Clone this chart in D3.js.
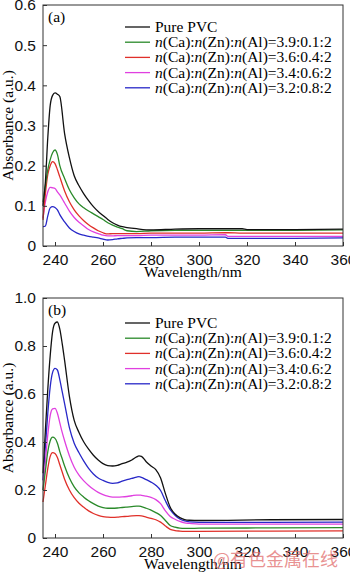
<!DOCTYPE html>
<html>
<head>
<meta charset="utf-8">
<script src="https://cdn.jsdelivr.net/npm/d3@7"></script>
<style>
  body { margin: 0; background: #fff; }
  svg { display: block; font-family: "Liberation Serif", "Times New Roman", serif; }
  .axis text { font-size: 15.5px; fill: #111; }
  .axis line { stroke: #333; }
  .frame { fill: none; stroke: #333; stroke-width: 1; }
  .series { fill: none; stroke-width: 1.3; stroke-linejoin: round; }
</style>
</head>
<body>
<div id="chart"></div>
<script>
// series names / colours shared by both panels
const seriesNames = ["Pure PVC", "3.9:0.1:2", "3.6:0.4:2", "3.4:0.6:2", "3.2:0.8:2"];
const seriesColors = ["#111111", "#2a8a2a", "#e0302a", "#e040e0", "#2828c8"];

// panel (a)
const wavelengthsA = [235,236,237,238,239,240,241,242,244,246,248,250,252,254,256,258,260,262,264,266,268,270,274,280,290,300,311,312,318,320,340,360];
const pvcA  = [0.10,0.16,0.27,0.35,0.375,0.381,0.378,0.372,0.28,0.22,0.175,0.15,0.13,0.113,0.098,0.086,0.076,0.066,0.058,0.052,0.048,0.046,0.043,0.040,0.042,0.043,0.043,0.043,0.043,0.041,0.041,0.042];
const zn01A = [0.11,0.15,0.19,0.215,0.232,0.239,0.228,0.20,0.168,0.14,0.12,0.105,0.095,0.087,0.08,0.073,0.066,0.058,0.052,0.047,0.043,0.038,0.036,0.038,0.039,0.039,0.039,0.039,0.039,0.039,0.039,0.040];
const zn04A = [0.065,0.13,0.178,0.20,0.21,0.205,0.19,0.172,0.137,0.11,0.09,0.075,0.063,0.053,0.045,0.038,0.033,0.030,0.031,0.031,0.031,0.031,0.031,0.032,0.032,0.032,0.033,0.033,0.032,0.032,0.032,0.032];
const zn06A = [0.07,0.11,0.135,0.146,0.145,0.143,0.135,0.127,0.107,0.087,0.071,0.059,0.05,0.041,0.035,0.031,0.027,0.025,0.025,0.026,0.026,0.026,0.026,0.027,0.027,0.027,0.028,0.024,0.024,0.024,0.024,0.024];
const zn08A = [0.048,0.05,0.075,0.095,0.098,0.096,0.09,0.078,0.06,0.045,0.036,0.03,0.027,0.024,0.022,0.02,0.017,0.015,0.016,0.018,0.019,0.02,0.021,0.021,0.022,0.022,0.022,0.019,0.019,0.019,0.019,0.020];

// panel (b)
const wavelengthsB = [235,236,237,238,239,240,241,242,243,244,246,248,250,252,254,256,258,260,262,264,266,268,270,272,274,275,276,278,280,282,284,286,288,290,292,294,296,300,330,360];
const pvcB  = [0.27,0.45,0.62,0.76,0.86,0.895,0.90,0.87,0.81,0.74, 0.59,0.49,0.44,0.40,0.37,0.345,0.325,0.31,0.302,0.30,0.303,0.31,0.316,0.325, 0.338,0.342,0.34,0.318,0.30,0.285,0.25,0.185,0.128,0.10,0.085,0.077,0.074, 0.073,0.076,0.077];
const zn01B = [0.20,0.28,0.36,0.405,0.42,0.415,0.395,0.36,0.33,0.30, 0.25,0.213,0.188,0.17,0.155,0.143,0.133,0.127,0.124,0.124,0.125,0.127,0.129,0.131, 0.133,0.133,0.131,0.124,0.116,0.106,0.094,0.073,0.052,0.045,0.041,0.04,0.04, 0.041,0.042,0.043];
const zn04B = [0.15,0.22,0.29,0.34,0.356,0.352,0.335,0.305,0.275,0.245, 0.20,0.168,0.145,0.128,0.113,0.102,0.094,0.089,0.087,0.086,0.087,0.089,0.09,0.092, 0.093,0.093,0.092,0.087,0.082,0.076,0.066,0.05,0.036,0.031,0.029,0.028,0.028, 0.028,0.029,0.03];
const zn06B = [0.20,0.32,0.43,0.51,0.538,0.54,0.52,0.48,0.44,0.405, 0.343,0.295,0.262,0.238,0.219,0.203,0.19,0.181,0.174,0.17,0.17,0.171,0.173,0.176, 0.179,0.179,0.178,0.174,0.169,0.16,0.143,0.113,0.09,0.078,0.069,0.063,0.061, 0.058,0.058,0.058];
const zn08B = [0.24,0.38,0.52,0.63,0.69,0.707,0.70,0.66,0.61,0.56, 0.46,0.395,0.355,0.32,0.29,0.267,0.25,0.24,0.232,0.228,0.23,0.237,0.243,0.248, 0.254,0.256,0.253,0.243,0.233,0.22,0.198,0.155,0.118,0.095,0.079,0.071,0.067, 0.065,0.065,0.066];

const xTicks = [240,260,280,300,320,340,360];
const yTicksA = [0,0.1,0.2,0.3,0.4,0.5,0.6];
const yTicksB = [0,0.2,0.4,0.6,0.8,1.0];

const W = 350, H = 575;
const svg = d3.select("#chart").append("svg").attr("width", W).attr("height", H);

const fmtY = d => d === 0 ? "0" : d3.format(".1f")(d);

function drawPanel(opt) {
    const x = d3.scaleLinear().domain([235, 360]).range([43, 343]);
    const y = d3.scaleLinear().domain(opt.yDomain).range([opt.bottom, opt.top]);

    const g = svg.append("g");

    // curves
    const line = d3.line()
        .x(d => x(d[0]))
        .y(d => y(d[1]))
        .curve(d3.curveMonotoneX);

    // draw in reverse so black sits on top
    opt.series.slice().reverse().forEach((vals, j) => {
        const i = opt.series.length - 1 - j;
        g.append("path")
            .attr("class", "series")
            .attr("stroke", seriesColors[i])
            .attr("d", line(opt.wavelengths.map((w, k) => [w, vals[k]])));
    });

    // axes, ticks point inwards
    g.append("g")
        .attr("class", "axis")
        .attr("transform", "translate(0," + opt.bottom + ")")
        .call(d3.axisBottom(x).tickValues(xTicks).tickSizeInner(-4).tickSizeOuter(0).tickPadding(8))
        .call(a => a.select(".domain").remove());

    g.append("g")
        .attr("class", "axis")
        .attr("transform", "translate(43,0)")
        .call(d3.axisLeft(y).tickValues(opt.yTicks).tickFormat(fmtY).tickSizeInner(-4).tickSizeOuter(0).tickPadding(7))
        .call(a => a.select(".domain").remove());

    g.append("rect")
        .attr("class", "frame")
        .attr("x", 43).attr("y", opt.top)
        .attr("width", 300).attr("height", opt.bottom - opt.top);

    // axis titles
    g.append("text")
        .attr("x", 193).attr("y", opt.bottom + 31)
        .attr("text-anchor", "middle")
        .style("font-size", "15.5px")
        .text("Wavelength/nm");

    g.append("text")
        .attr("transform", "translate(13," + ((opt.top + opt.bottom) / 2) + ") rotate(-90)")
        .attr("text-anchor", "middle")
        .style("font-size", "15.5px")
        .text("Absorbance (a.u.)");

    g.append("text")
        .attr("x", 48).attr("y", opt.top + 17)
        .style("font-size", "15.5px")
        .text(opt.label);

    // legend
    const leg = g.append("g");
    seriesNames.forEach((name, i) => {
        const yy = opt.legendTop + i * 15.2;
        leg.append("line")
            .attr("x1", 125).attr("x2", 150)
            .attr("y1", yy).attr("y2", yy)
            .attr("stroke", seriesColors[i]).attr("stroke-width", 1.3);
        const t = leg.append("text")
            .attr("x", 155).attr("y", yy + 5)
            .style("font-size", "15.5px");
        if (i === 0) {
            t.text(name);
        } else {
            ["Ca", "Zn", "Al"].forEach((el, k) => {
                t.append("tspan").style("font-style", "italic").text("n");
                t.append("tspan").text("(" + el + ")" + (k < 2 ? ":" : "=" + name));
            });
        }
    });
}

drawPanel({
    top: 5, bottom: 246, yDomain: [0, 0.6], yTicks: yTicksA, label: "(a)",
    legendTop: 27, wavelengths: wavelengthsA,
    series: [pvcA, zn01A, zn04A, zn06A, zn08A]
});

drawPanel({
    top: 298, bottom: 538, yDomain: [0, 1.0], yTicks: yTicksB, label: "(b)",
    legendTop: 323, wavelengths: wavelengthsB,
    series: [pvcB, zn01B, zn04B, zn06B, zn08B]
});

// watermark
svg.append("text")
    .attr("x", 213).attr("y", 566)
    .style("font-family", "'Noto Sans CJK SC', sans-serif")
    .style("font-size", "18px")
    .attr("fill", "rgba(225,110,110,0.75)")
    .text("@有色金属在线");
</script>
</body>
</html>
